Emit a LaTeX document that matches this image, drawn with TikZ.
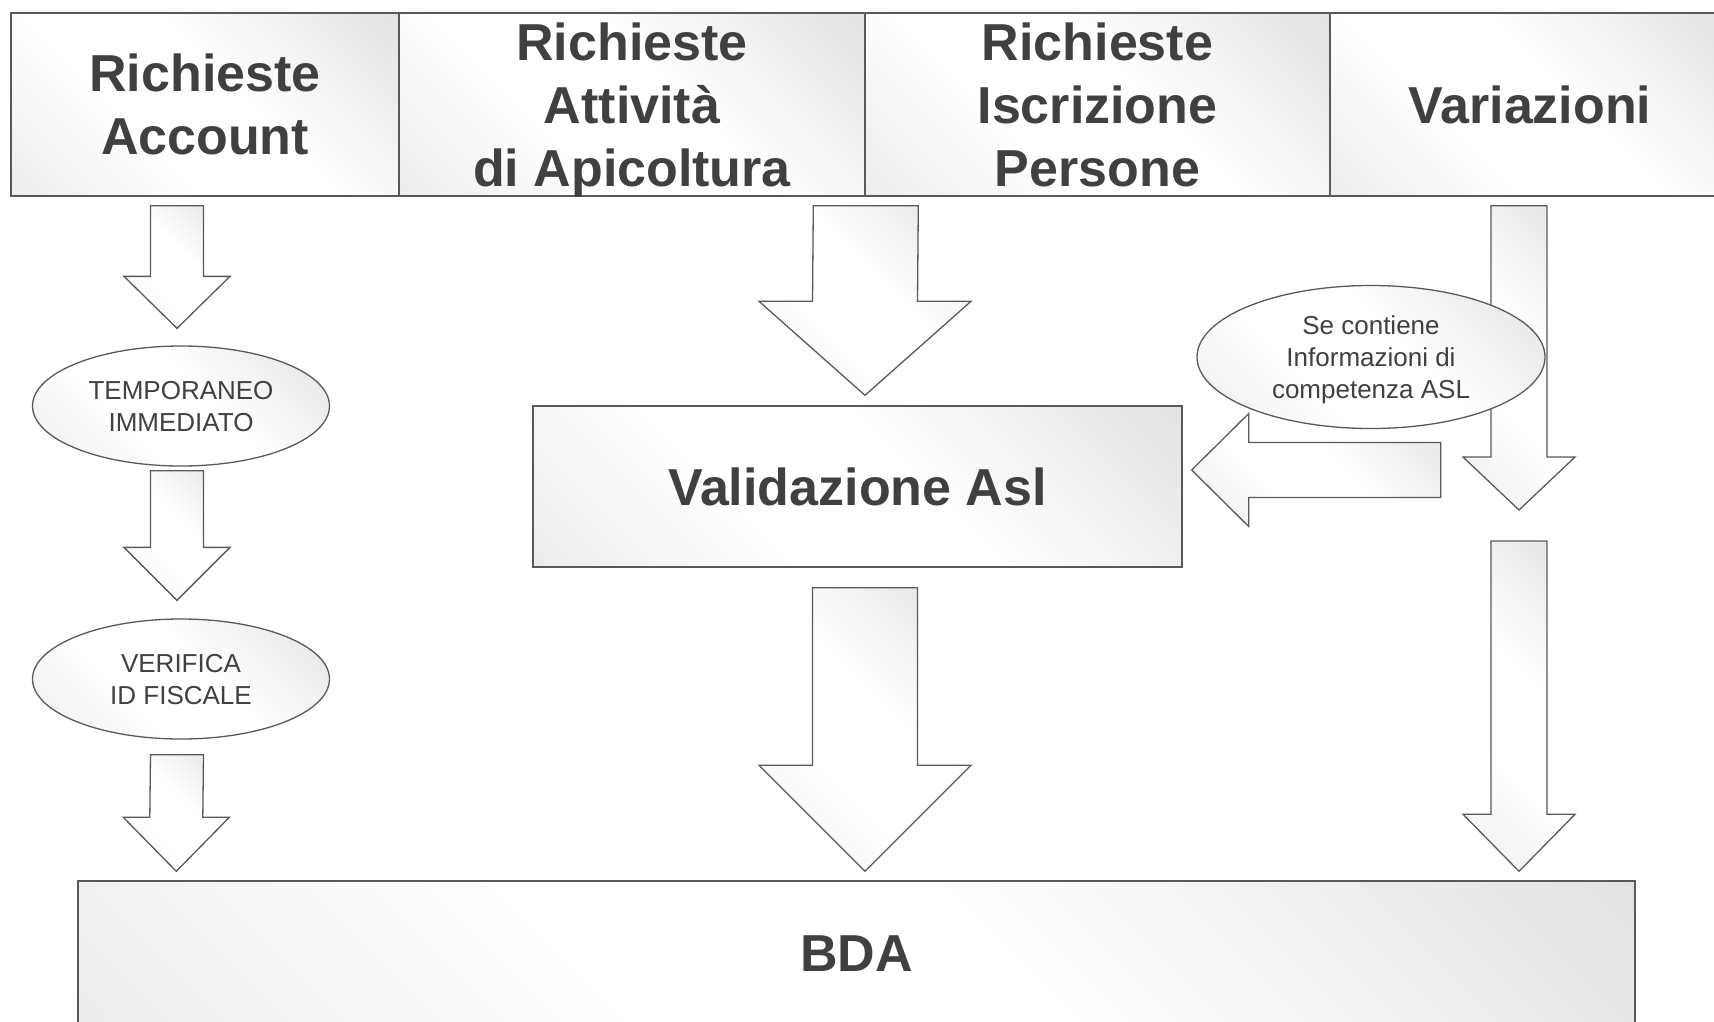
\documentclass[tikz,border=0pt]{standalone}
\usepackage{fontspec}
\setmainfont{Liberation Sans}
\usepackage{xcolor}
\usetikzlibrary{shapes.geometric,calc}
\definecolor{inkgray}{HTML}{404040}
\definecolor{edgegray}{HTML}{595959}
\definecolor{sheengray}{HTML}{D4D4D4}
\pgfdeclarehorizontalshading{sheen}{100bp}{color(0bp)=(sheengray!70); color(38bp)=(white); color(56bp)=(white); color(100bp)=(sheengray)}
\tikzset{
    sheen-fill/.style = {shading=sheen, shading angle=45},
    head-box/.style = {draw=edgegray, line width=1.6pt, sheen-fill, rectangle, minimum height=183pt, inner sep=0pt, text depth=0pt, align=center, text=inkgray, font=\fontsize{52}{63}\selectfont\bfseries},
    proc-box/.style = {draw=edgegray, line width=1.4pt, sheen-fill, rectangle, inner sep=0pt, text=inkgray, font=\fontsize{52}{63}\selectfont\bfseries},
    note-ellipse/.style = {draw=edgegray, line width=1.3pt, sheen-fill, ellipse, inner sep=0pt, text depth=0pt, align=center, text=inkgray, font=\fontsize{26}{32}\selectfont},
    block-arrow/.style = {draw=edgegray, line width=1.3pt, sheen-fill},
}
% top, tip, shaft half width, head half width, head length
\newcommand{\downblock}[5]{%
  \draw[block-arrow] ($(#1)+(-#3,0)$) -- ($(#2)+(-#3,-#5)$) -- ($(#2)+(-#4,-#5)$) -- (#2)
    -- ($(#2)+(#4,-#5)$) -- ($(#2)+(#3,-#5)$) -- ($(#1)+(#3,0)$) -- cycle;}
% tail, tip, shaft half width, head half width, head length
\newcommand{\leftblock}[5]{%
  \draw[block-arrow] ($(#1)+(0,-#3)$) -- ($(#2)+(#5,-#3)$) -- ($(#2)+(#5,-#4)$) -- (#2)
    -- ($(#2)+(#5,#4)$) -- ($(#2)+(#5,#3)$) -- ($(#1)+(0,#3)$) -- cycle;}

\begin{document}
\begin{tikzpicture}[x=1pt, y=-1pt]
\useasboundingbox (0,0) rectangle (1714,1021);
\clip (0,0) rectangle (1714,1021);

% header row
\node[head-box, minimum width=388pt] (acct) at (205,104.5) {Richieste\\Account};
\node[head-box, minimum width=466pt] (att) at (632,104.5) {Richieste\\Attività\\di Apicoltura};
\node[head-box, minimum width=465pt] (iscr) at (1097.5,104.5) {Richieste\\Iscrizione\\Persone};
\node[head-box, minimum width=400pt] (var) at (1530,104.5) {Variazioni};

% left column
\node[note-ellipse, minimum width=297pt, minimum height=120pt] (temp) at (181,406) {TEMPORANEO\\IMMEDIATO};
\node[note-ellipse, minimum width=297pt, minimum height=120pt] (verif) at (181,679) {VERIFICA\\ID FISCALE};

% middle
\node[proc-box, minimum width=649pt, minimum height=161pt] (valid) at (857.5,486.5) {Validazione Asl};
\node[proc-box, minimum width=1557pt, minimum height=146pt] (bda) at (856.5,954) {BDA};

\downblock{$(acct.south)+(-28,9)$}{$(temp.north)+(-4,-17)$}{26.5}{53}{52}
\downblock{$(temp.south)+(-4,4)$}{$(verif.north)+(-4,-18)$}{26.5}{53}{53}
\downblock{$(verif.south)+(-4,15)$}{$(bda.north west)+(99,-9)$}{26.5}{53}{54}

\downblock{$(att.south east)+(0,9)$}{$(valid.north)+(7.5,-10)$}{52.5}{106}{94}
\downblock{$(valid.south)+(7.5,20)$}{$(bda.north)+(8.5,-9)$}{52.5}{106}{106}

% right column
\downblock{$(var.south)+(-11,9)$}{$(var.south |- valid.east)+(-11,23.5)$}{28}{56}{53}
\downblock{$(var.south |- valid.east)+(-11,54.5)$}{$(var.south |- bda.north)+(-11,-9)$}{28}{56}{57}
\leftblock{$(valid.east)+(258,-16.5)$}{$(valid.east)+(9,-16.5)$}{27.5}{56.5}{57}

\node[note-ellipse, minimum width=348pt, minimum height=143pt] (asl) at (1371,357) {Se contiene\\Informazioni di\\competenza ASL};
\end{tikzpicture}
\end{document}
